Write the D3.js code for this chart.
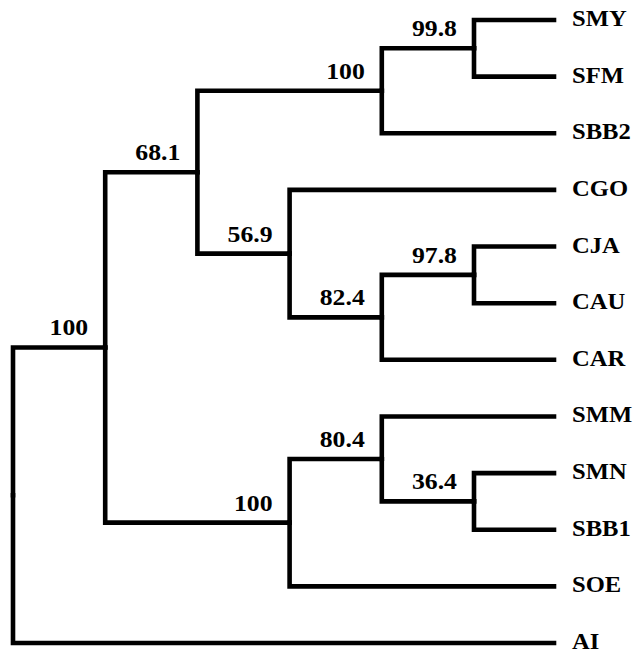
<!DOCTYPE html>
<html>
<head>
<meta charset="utf-8">
<script src="https://cdn.jsdelivr.net/npm/d3@7"></script>
<style>
  html, body { margin: 0; padding: 0; background: #fff; }
  svg { display: block; }
</style>
</head>
<body>
<svg id="chart" width="634" height="654"></svg>
<script>
// Internal nodes (id, parent, bootstrap support)
const nodeIds     = ["root", "ingroup", "c68", "c100a", "c998", "c569", "c824", "c978", "c100b", "c804", "c364"];
const nodeParents = [null,   "root",    "ingroup", "c68", "c100a", "c68", "c569", "c824", "ingroup", "c100b", "c804"];
const nodeSupport = [null,   "100",     "68.1", "100",   "99.8", "56.9", "82.4", "97.8", "100",   "80.4",  "36.4"];

// Leaves (top to bottom) and their parents
const leaves      = ["SMY", "SFM", "SBB2", "CGO", "CJA", "CAU", "CAR", "SMM", "SMN", "SBB1", "SOE", "AI"];
const leafParents = ["c998", "c998", "c100a", "c569", "c978", "c978", "c824", "c804", "c364", "c364", "c100b", "root"];

const rows = nodeIds.map((id, i) => ({ id, parent: nodeParents[i], support: nodeSupport[i] }))
  .concat(leaves.map((id, i) => ({ id, parent: leafParents[i], support: null })));

const root = d3.stratify().id(d => d.id).parentId(d => d.parent)(rows);

const FONT = "'Liberation Serif', 'Times New Roman', Times, serif";

const svg = d3.select("#chart");

const y = d3.scalePoint().domain(leaves).range([20, 643]);
const x = d3.scaleLinear().domain([root.height, 1]).range([13, 474]);
const leafX = 554;

// positions: leaves by order, internal nodes at mean of children (post-order)
root.eachAfter(n => {
  if (!n.children) {
    n.py = y(n.id);
    n.px = leafX;
  } else {
    n.py = d3.mean(n.children, c => c.py);
    n.px = x(n.height);
  }
});

svg.append("g")
  .attr("fill", "none")
  .attr("stroke", "#000")
  .attr("stroke-width", 4.6)
  .attr("stroke-linecap", "square")
  .attr("stroke-linejoin", "miter")
  .selectAll("path")
  .data(root.links())
  .join("path")
  .attr("d", l => `M${l.source.px},${l.source.py}V${l.target.py}H${l.target.px}`);

// leaf labels
svg.append("g").selectAll("text")
  .data(root.leaves())
  .join("text")
  .attr("transform", d => `translate(${d.px + 18},${d.py}) scale(1.07,1)`)
  .attr("dy", "0.26em")
  .attr("font-family", FONT)
  .attr("font-weight", "bold")
  .attr("font-size", 23)
  .attr("fill", "#000")
  .text(d => d.id);

// support labels
svg.append("g").selectAll("text")
  .data(root.descendants().filter(d => d.data.support))
  .join("text")
  .attr("transform", d => `translate(${d.px - 17},${d.py - 12}) scale(1.12,1)`)
  .attr("text-anchor", "end")
  .attr("font-family", FONT)
  .attr("font-weight", "bold")
  .attr("font-size", 23)
  .attr("fill", "#000")
  .text(d => d.data.support);
</script>
</body>
</html>
